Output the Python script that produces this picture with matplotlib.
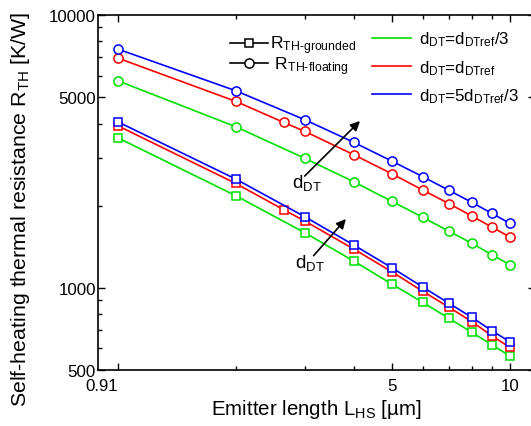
import numpy as np
import matplotlib
matplotlib.use("Agg")
import matplotlib.pyplot as plt
from matplotlib.lines import Line2D
from matplotlib.ticker import FixedLocator, FixedFormatter, NullFormatter

plt.rcParams['font.family'] = ['Liberation Sans', 'DejaVu Sans']
plt.rcParams['mathtext.fontset'] = 'custom'
plt.rcParams['mathtext.rm'] = 'Liberation Sans'
plt.rcParams['mathtext.it'] = 'Liberation Sans:italic'
plt.rcParams['mathtext.bf'] = 'Liberation Sans:bold'

# Emitter lengths [um]
L_hs = [0.91, 2, 3, 4, 5, 6, 7, 8, 9, 10]
# reference-thickness devices include an extra point at L = 2.65 um
L_hs_ref = [0.91, 2, 2.65, 3, 4, 5, 6, 7, 8, 9, 10]

# R_TH floating [K/W]
rf_thin = [5743, 3896, 2984, 2449, 2076, 1814, 1612, 1457, 1323, 1216]
rf_ref = [6956, 4826, 4041, 3746, 3076, 2620, 2283, 2035, 1834, 1671, 1536]
rf_thick = [7505, 5278, 4133, 3415, 2916, 2556, 2277, 2058, 1876, 1724]

# R_TH grounded [K/W]
rg_thin = [3550, 2177, 1593, 1254, 1033, 885, 773, 687, 619, 563]
rg_ref = [3929, 2415, 1934, 1758, 1388, 1146, 971, 849, 752, 668, 605]
rg_thick = [4063, 2505, 1823, 1436, 1186, 1007, 878, 780, 697, 635]

x_major = [0.91, 5, 10]
x_minor = [2, 3, 4, 6, 7, 8, 9]
y_major = [500, 1000, 5000, 10000]

GREEN = '#00e000'
RED = '#ff0000'
BLUE = '#0000ff'

# log axis whose first segment is compressed so that 0.91 sits one
# decade-step left of 2
LOG2 = np.log10(2.0)
K = LOG2 / np.log10(2.0 / 0.91)


def fwd(x):
    x = np.clip(np.asarray(x, dtype=float), 1e-6, None)
    lx = np.log10(x)
    return np.where(x >= 2, lx, LOG2 - (LOG2 - lx) * K)


def inv(y):
    y = np.asarray(y, dtype=float)
    return np.where(y >= LOG2, 10.0 ** y, 2.0 * 10.0 ** ((y - LOG2) / K))


W, H = 531, 427
fig = plt.figure(figsize=(W / 100, H / 100), dpi=100)
ax = fig.add_axes([98 / W, (H - 371) / H, (535 - 98) / W, (371 - 16) / H])
ax.set_xscale('function', functions=(fwd, inv))
ax.set_yscale('log')
ax.set_xlim(0.798, 11.6)
ax.set_ylim(500, 10000)

lw = 1.2
ms_c = 6.6
ms_s = 6.0


def plot(x, y, color, marker, ms):
    ax.plot(x, y, color=color, lw=lw, marker=marker, ms=ms,
            mfc='white', mec=color, mew=1.1, zorder=3)


plot(L_hs, rf_thin, GREEN, 'o', ms_c)
plot(L_hs_ref, rf_ref, RED, 'o', ms_c)
plot(L_hs, rf_thick, BLUE, 'o', ms_c)
plot(L_hs, rg_thin, GREEN, 's', ms_s)
plot(L_hs_ref, rg_ref, RED, 's', ms_s)
plot(L_hs, rg_thick, BLUE, 's', ms_s)

# ticks
ax.xaxis.set_major_locator(FixedLocator(x_major))
ax.xaxis.set_major_formatter(FixedFormatter([f'{v:g}' for v in x_major]))
ax.xaxis.set_minor_locator(FixedLocator(x_minor))
ax.xaxis.set_minor_formatter(NullFormatter())
ax.yaxis.set_major_locator(FixedLocator(y_major))
ax.yaxis.set_major_formatter(FixedFormatter([str(v) for v in y_major]))
y_minor = [v * m for v in (100, 1000) for m in range(2, 10) if 500 < v * m < 10000 and v * m not in y_major]
ax.yaxis.set_minor_locator(FixedLocator(y_minor))
ax.yaxis.set_minor_formatter(NullFormatter())

ax.tick_params(which='both', direction='in', top=True, right=True,
               labelsize=12.2, width=1.0)
ax.tick_params(axis='y', pad=1.5)
ax.tick_params(axis='x', pad=6)
ax.tick_params(which='major', length=5)
ax.tick_params(which='minor', length=3)
for s in ax.spines.values():
    s.set_linewidth(1.2)

fig.canvas.draw()
ax.get_xticklabels()[0].set_horizontalalignment('right')

ax.set_xlabel(r'Emitter length L$_{\mathrm{HS}}$ [µm]', fontsize=14.8, labelpad=3)
ax.set_ylabel(r'Self-heating thermal resistance R$_{\mathrm{TH}}$ [K/W]', fontsize=15.4)
ax.yaxis.set_label_coords(-0.152, 0.456)

# d_DT arrows
ax.annotate('', xy=(4.15, 4087), xytext=(3.0, 2570),
            arrowprops=dict(arrowstyle='-|>', color='black', lw=1.2,
                            mutation_scale=14, shrinkA=0, shrinkB=0))
ax.text(3.03, 2443, r'd$_{\mathrm{DT}}$', fontsize=13.5, ha='center', va='center')
ax.annotate('', xy=(3.82, 1788), xytext=(3.16, 1312),
            arrowprops=dict(arrowstyle='-|>', color='black', lw=1.2,
                            mutation_scale=14, shrinkA=0, shrinkB=0))
ax.text(3.10, 1244, r'd$_{\mathrm{DT}}$', fontsize=13.5, ha='center', va='center')

# legends
h_type = [Line2D([], [], color='black', lw=lw, marker='s', ms=ms_s, mfc='white', mew=1.1),
          Line2D([], [], color='black', lw=lw, marker='o', ms=ms_c, mfc='white', mew=1.1)]
lab_type = [r'R$_{\text{TH-grounded}}$', r' R$_{\text{TH-floating}}$']
leg1 = ax.legend(h_type, lab_type, loc='upper left', bbox_to_anchor=(221 / W, 1 - 26 / H),
                 bbox_transform=fig.transFigure, frameon=False, fontsize=12.6,
                 handlelength=2.2, handletextpad=0.12, labelspacing=-0.1, borderpad=0)
ax.add_artist(leg1)

h_col = [Line2D([], [], color=c, lw=lw) for c in (GREEN, RED, BLUE)]
lab_col = [r'd$_{\mathrm{DT}}$=d$_{\mathrm{DTref}}$/3',
           r'd$_{\mathrm{DT}}$=d$_{\mathrm{DTref}}$',
           r'd$_{\mathrm{DT}}$=5d$_{\mathrm{DTref}}$/3']
ax.legend(h_col, lab_col, loc='upper left', bbox_to_anchor=(364 / W, 1 - 22 / H),
          bbox_transform=fig.transFigure, frameon=False, fontsize=12.2,
          handlelength=2.3, handletextpad=0.42, labelspacing=0.57, borderpad=0)

fig.savefig('out.png', dpi=100)
